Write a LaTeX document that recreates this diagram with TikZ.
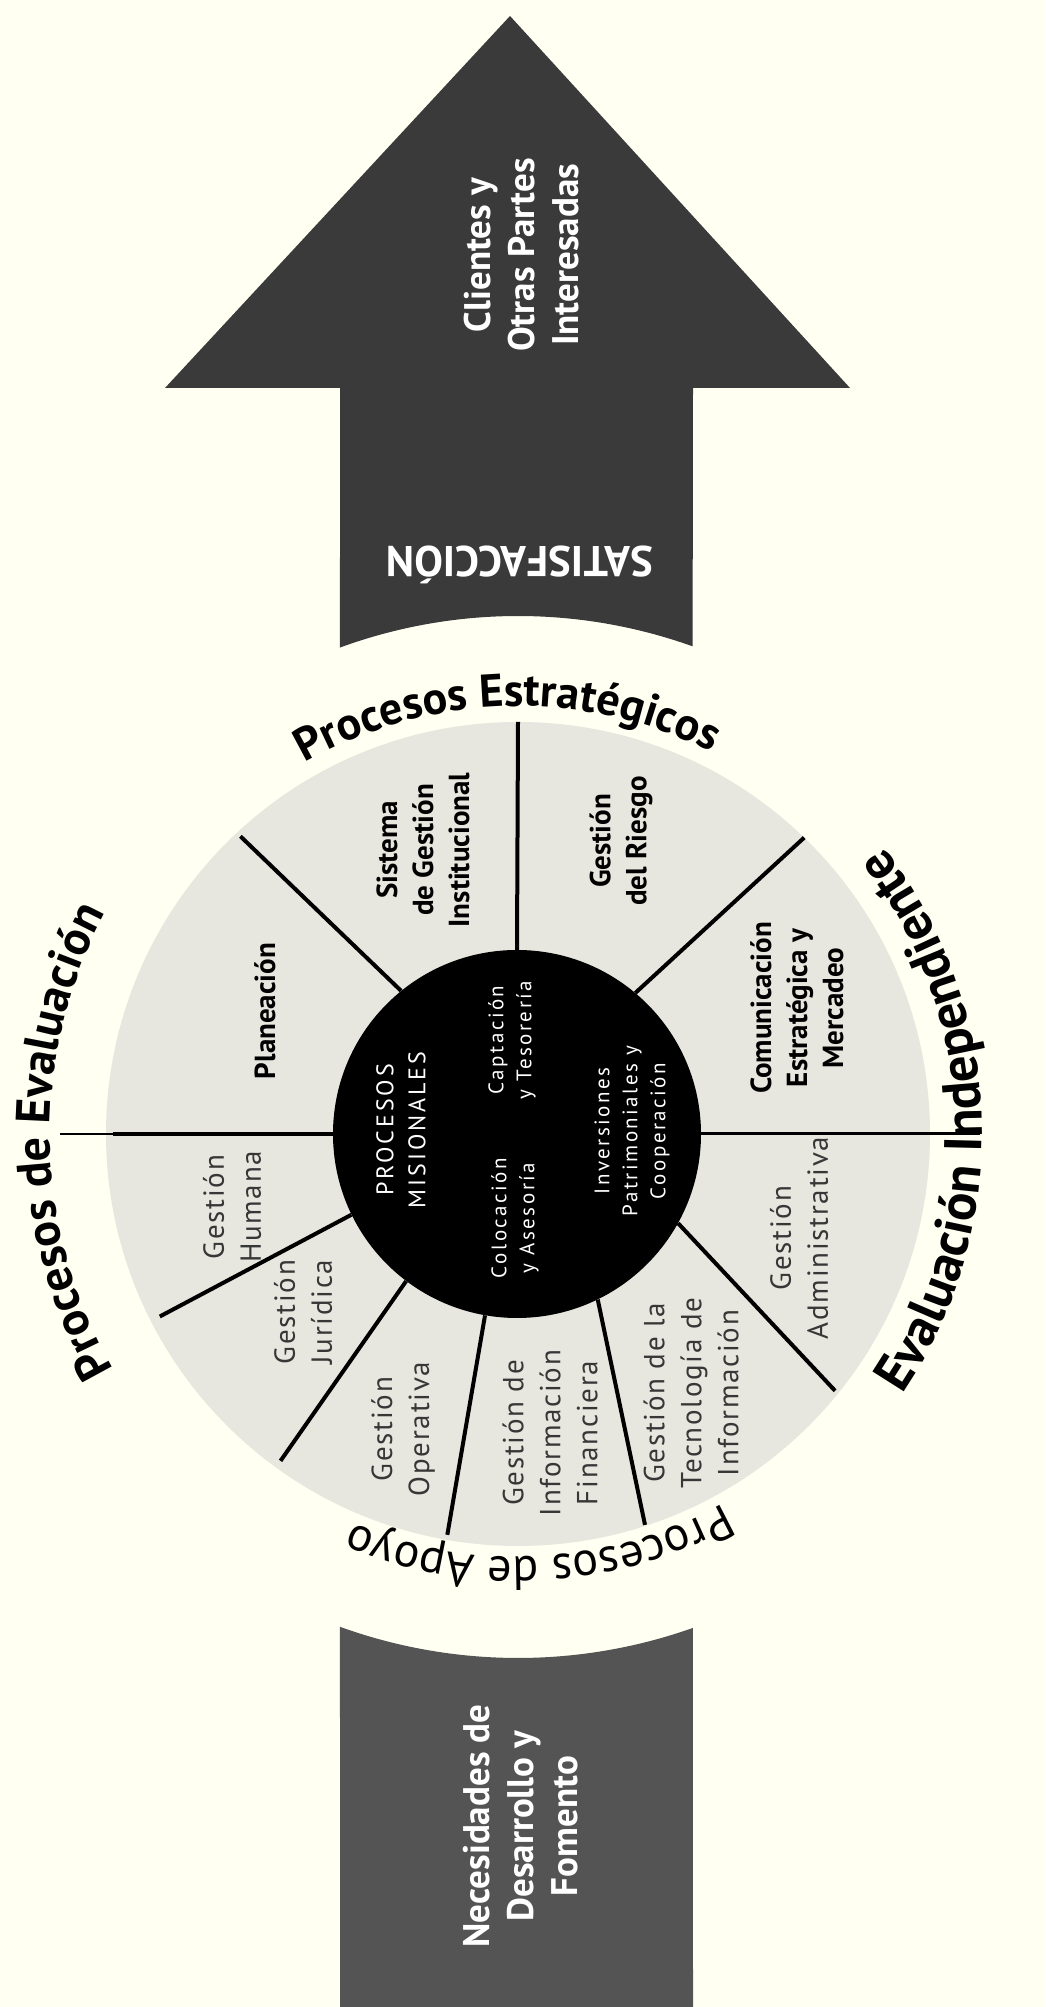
\documentclass[tikz,border=0pt]{standalone}
\usepackage{fontspec}
\setmainfont{PT Sans}
\newfontfamily\tracked[LetterSpace=6]{PT Sans}
\newfontfamily\innerfont[LetterSpace=12]{PT Sans}
\usetikzlibrary{decorations.text}
\definecolor{paper}{RGB}{255,255,242}
\definecolor{arrowgray}{RGB}{58,58,58}
\definecolor{blockgray}{RGB}{84,84,84}
\definecolor{discgray}{RGB}{231,231,223}
\definecolor{lightlabel}{RGB}{55,55,55}
\begin{document}
\begin{tikzpicture}[x=1pt,y=1pt,
  boldlab/.style={rotate=90, align=center, inner sep=0pt, font=\fontsize{29}{36}\selectfont\bfseries, text=black},
  lightlab/.style={rotate=90, align=center, inner sep=0pt, font=\tracked\fontsize{29}{37}\selectfont, text=lightlabel},
  innerlab/.style={rotate=90, align=center, inner sep=0pt, font=\innerfont\fontsize{21}{28}\selectfont, text=white},
  arrowlab/.style={rotate=90, align=center, inner sep=0pt, font=\fontsize{37}{44}\selectfont\bfseries, text=white},
  spoke/.style={line width=4pt, draw=black}]
\useasboundingbox (0,0) rectangle (1045,2007);
\fill[paper] (0,0) rectangle (1045,2007);
\coordinate (C) at (518,873);
% top arrow
\fill[arrowgray] ([shift={(110.1:518pt)}]C) -- (340,1619) -- (165,1619) -- (510,1991) -- (850,1619) -- (693,1619)
  -- ([shift={(70.3:518pt)}]C) arc[start angle=70.3, end angle=110.1, radius=518pt] -- cycle;
% bottom block
\fill[blockgray] (340,0) -- ([shift={(250.14:524pt)}]C) arc[start angle=250.14, end angle=289.5, radius=524pt] -- (693,0) -- cycle;
% disc
\fill[discgray] (C) circle[radius=412pt];
% central circle
\node[circle, fill=black, minimum size=368pt, inner sep=0pt] (mis) at (517,873) {};
% spokes
\draw[spoke] (mis.90) -- ([shift={(90:412pt)}]C);
\draw[spoke] (mis.50) -- ([shift={(46:412pt)}]C);
\draw[spoke] (mis.129) -- ([shift={(133:407pt)}]C);
\draw[line width=3pt] (mis.0) -- (980,873);
\draw[spoke] (mis.180) -- (113,873);
\draw[line width=1.5pt] (113,873) -- (60,873);
\draw[spoke] (mis.206) -- ([shift={(207:402pt)}]C);
\draw[spoke] (mis.233) -- ([shift={(234:404pt)}]C);
\draw[spoke] (mis.260) -- ([shift={(260:407pt)}]C);
\draw[spoke] (mis.296.5) -- ([shift={(288:411pt)}]C);
\draw[spoke] (mis.331) -- ([shift={(321:408pt)}]C);
% arrow texts
\node[arrowlab] (cli) at (522,1752) {Clientes y\\Otras Partes\\Interesadas};
\node[rotate=180, inner sep=0pt, font=\fontsize{43}{43}\selectfont\bfseries, text=white] (sat) at (520,1442) {SATISFACCIÓN};
\node[arrowlab] (nec) at (521,181) {Necesidades de\\Desarrollo y\\Fomento};
% sector labels
\node[boldlab] (plan) at (265,996) {Planeación};
\node[boldlab] (sgi) at (423,1157) {Sistema\\de Gestión\\Institucional};
\node[boldlab] (ries) at (621,1166) {Gestión\\del Riesgo};
\node[boldlab] (com) at (797,999) {Comunicación\\Estratégica y\\Mercadeo};
\node[lightlab] (hum) at (232,800) {Gestión\\Humana};
\node[lightlab] (jur) at (303,695) {Gestión\\Jurídica};
\node[lightlab] (ope) at (403,578) {Gestión\\Operativa};
\node[lightlab] (fin) at (550,574) {Gestión de\\Información\\Financiera};
\node[lightlab] (tec) at (691,614) {Gestión de la\\Tecnología de\\Información};
\node[lightlab] (adm) at (799,769) {Gestión\\Administrativa};
% inner labels
\node[innerlab, font=\innerfont\fontsize{24}{32}\selectfont] (pm) at (401,877) {PROCESOS\\MISIONALES};
\node[innerlab] (ct) at (512,967) {Captación\\y Tesorería};
\node[innerlab] (ca) at (515,789) {Colocación\\y Asesoría};
\node[innerlab] (ip) at (632,876) {Inversiones\\Patrimoniales y\\Cooperación};
% arc titles
\path[decorate, decoration={text along path, text align=center,
  text={|\fontsize{46}{46}\selectfont\bfseries|Procesos Estratégicos}}]
  ([shift={(151.5:428pt)}]C) arc[start angle=151.5, end angle=31.5, radius=428pt];
\path[decorate, decoration={text along path, text align=center,
  text={|\fontsize{48}{48}\selectfont\bfseries|Procesos de Evaluación}}]
  ([shift={(241:468pt)}]C) arc[start angle=241, end angle=121, radius=468pt];
\path[decorate, decoration={text along path, text align=center,
  text={|\fontsize{53}{53}\selectfont\bfseries|Evaluación Independiente}}]
  ([shift={(-58:464pt)}]C) arc[start angle=-58, end angle=62, radius=464pt];
\path[decorate, decoration={text along path, text align=center,
  text={|\fontsize{48}{48}\selectfont|Procesos de Apoyo}}]
  ([shift={(333:423pt)}]C) arc[start angle=333, end angle=213, radius=423pt];
\end{tikzpicture}
\end{document}
